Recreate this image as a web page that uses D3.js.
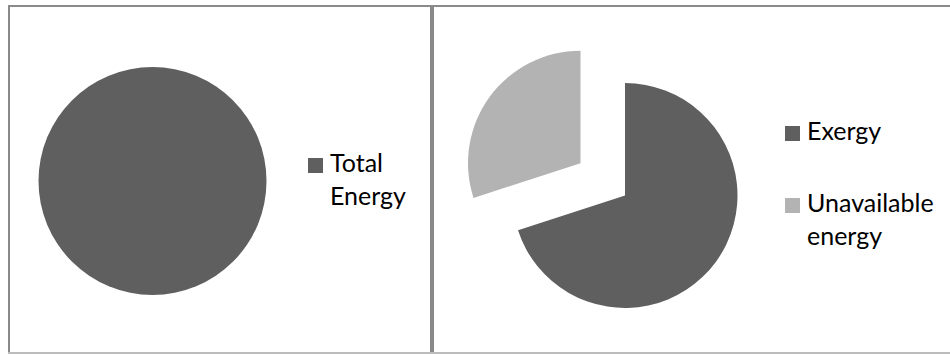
<!DOCTYPE html>
<html>
<head>
<meta charset="utf-8">
<script src="https://cdn.jsdelivr.net/npm/d3@7"></script>
<style>
  html, body { margin: 0; padding: 0; background: #fff; }
  svg { display: block; }
  text { font-family: Lato, "Open Sans", sans-serif; font-size: 25px; fill: #000; }
</style>
</head>
<body>
<svg></svg>
<script>
const width = 950;
const height = 354;

// left chart: total energy
const totalLabels = ["Total Energy"];
const totalValues = [100];
// right chart: split of the energy
const splitLabels = ["Exergy", "Unavailable energy"];
const splitValues = [70, 30];
const sliceColors = ["#5f5f5f", "#b3b3b3"];

const svg = d3.select("svg")
  .attr("width", width)
  .attr("height", height);

// panel frames
const frames = [
  { x: 9, w: 422 },
  { x: 433, w: 530 }
];
svg.selectAll("rect.frame")
  .data(frames)
  .enter()
  .append("rect")
  .attr("class", "frame")
  .attr("x", d => d.x)
  .attr("y", 6)
  .attr("width", d => d.w)
  .attr("height", 347)
  .attr("fill", "none")
  .attr("stroke", "#8a8a8a")
  .attr("stroke-width", 2);
svg.append("line")
  .attr("x1", 8).attr("x2", width)
  .attr("y1", 353).attr("y2", 353)
  .attr("stroke", "#bcbcbc")
  .attr("stroke-width", 2);

const pie = d3.pie().sort(null);

function drawPie(values, cx, cy, r, explode) {
  const arc = d3.arc().innerRadius(0).outerRadius(r);
  const g = svg.append("g").attr("transform", `translate(${cx},${cy})`);
  g.selectAll("path")
    .data(pie(values))
    .enter()
    .append("path")
    .attr("d", arc)
    .attr("fill", (d, i) => sliceColors[i])
    .attr("transform", (d, i) => {
      const off = explode[i] || 0;
      const a = (d.startAngle + d.endAngle) / 2;
      return `translate(${Math.sin(a) * off},${-Math.cos(a) * off})`;
    });
}

function drawLegend(labels, x, y, gap) {
  let base = y;
  labels.forEach((label, i) => {
    const lines = label.split(" ");
    svg.append("rect")
      .attr("x", x)
      .attr("y", base - 14)
      .attr("width", 15)
      .attr("height", 15)
      .attr("fill", sliceColors[i]);
    const t = svg.append("text")
      .attr("x", x + 22)
      .attr("y", base);
    lines.forEach((ln, j) => {
      t.append("tspan")
        .attr("x", x + 22)
        .attr("dy", j === 0 ? 0 : 33)
        .text(ln);
    });
    base += lines.length * 33 + gap;
  });
}

drawPie(totalValues, 152.5, 181, 114, []);
drawLegend(totalLabels, 308, 172, 0);

drawPie(splitValues, 625, 195.5, 112.5, [0, 55]);
drawLegend(splitLabels, 785, 140, 39);
</script>
</body>
</html>
